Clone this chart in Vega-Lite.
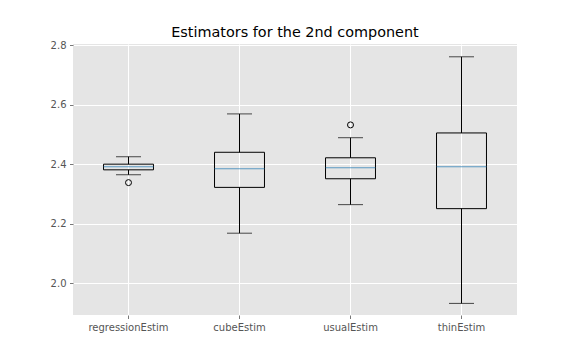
{
  "$schema": "https://vega.github.io/schema/vega-lite/v6.json",
  "width": 444,
  "height": 271,
  "autosize": {"type": "none"},
  "padding": {"left": 73, "top": 44, "right": 59, "bottom": 45},
  "background": "white",
  "config": {
    "view": {"fill": "#E5E5E5", "stroke": null},
    "font": "DejaVu Sans",
    "axis": {
      "domain": false,
      "grid": true,
      "gridColor": "white",
      "gridWidth": 1,
      "gridOpacity": 1,
      "tickColor": "#555555",
      "tickSize": 3.5,
      "tickWidth": 0.8,
      "labelColor": "#555555",
      "labelFont": "DejaVu Sans",
      "labelFontSize": 10,
      "labelPadding": 3.5,
      "title": null
    }
  },
  "title": {
    "text": "Estimators for the 2nd component",
    "font": "DejaVu Sans",
    "fontSize": 14.4,
    "fontWeight": "normal",
    "color": "black",
    "anchor": "middle",
    "frame": "group",
    "baseline": "bottom",
    "offset": 3,
    "dy": 17
  },
  "datasets": {
    "stats": [
      {"estimator": "regressionEstim", "lo": 2.3655, "q1": 2.382, "median": 2.392, "q3": 2.401, "hi": 2.426},
      {"estimator": "cubeEstim", "lo": 2.169, "q1": 2.323, "median": 2.386, "q3": 2.441, "hi": 2.570},
      {"estimator": "usualEstim", "lo": 2.265, "q1": 2.352, "median": 2.389, "q3": 2.4225, "hi": 2.490},
      {"estimator": "thinEstim", "lo": 1.933, "q1": 2.2515, "median": 2.392, "q3": 2.506, "hi": 2.762}
    ],
    "outliers": [
      {"estimator": "regressionEstim", "value": 2.339},
      {"estimator": "usualEstim", "value": 2.533}
    ]
  },
  "data": {"name": "stats"},
  "encoding": {
    "x": {
      "field": "estimator",
      "type": "nominal",
      "sort": ["regressionEstim", "cubeEstim", "usualEstim", "thinEstim"],
      "scale": {"type": "band", "paddingInner": 0, "paddingOuter": 0},
      "axis": {"labelAngle": 0, "bandPosition": 0.5}
    }
  },
  "layer": [
    {
      "mark": {"type": "rule", "color": "black", "strokeWidth": 1},
      "encoding": {
        "y": {"field": "lo", "type": "quantitative",
          "scale": {"domain": [1.894, 2.805], "nice": false, "zero": false},
          "axis": {"values": [2.0, 2.2, 2.4, 2.6, 2.8], "format": ".1f"}},
        "y2": {"field": "q1"}
      }
    },
    {
      "mark": {"type": "rule", "color": "black", "strokeWidth": 1},
      "encoding": {
        "y": {"field": "q3", "type": "quantitative"},
        "y2": {"field": "hi"}
      }
    },
    {
      "mark": {"type": "bar", "fill": "transparent", "stroke": "black", "strokeWidth": 1, "width": {"band": 0.45}},
      "encoding": {
        "y": {"field": "q1", "type": "quantitative"},
        "y2": {"field": "q3"}
      }
    },
    {
      "mark": {"type": "tick", "color": "#1f77b4", "size": 50, "thickness": 1, "orient": "horizontal"},
      "encoding": {
        "y": {"field": "median", "type": "quantitative"}
      }
    },
    {
      "mark": {"type": "tick", "color": "black", "size": 25, "thickness": 1, "orient": "horizontal"},
      "encoding": {
        "y": {"field": "lo", "type": "quantitative"}
      }
    },
    {
      "mark": {"type": "tick", "color": "black", "size": 25, "thickness": 1, "orient": "horizontal"},
      "encoding": {
        "y": {"field": "hi", "type": "quantitative"}
      }
    },
    {
      "data": {"name": "outliers"},
      "mark": {"type": "point", "shape": "circle", "filled": false, "stroke": "black", "strokeWidth": 1, "size": 36, "opacity": 1},
      "encoding": {
        "y": {"field": "value", "type": "quantitative"}
      }
    }
  ]
}
